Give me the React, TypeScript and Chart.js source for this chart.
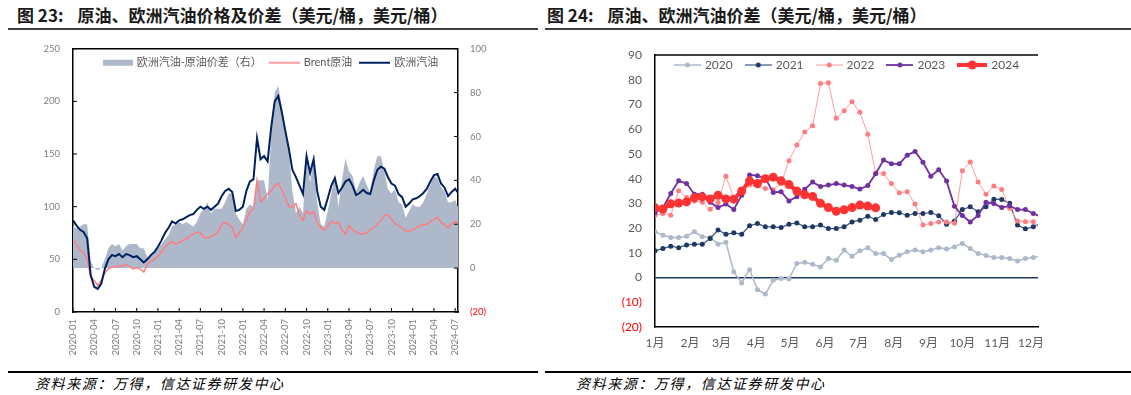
import React, { useEffect, useRef } from 'react';
import { Chart, registerables } from 'chart.js';

Chart.register(...registerables);

const FONT = 'Lato, "Noto Sans CJK SC", sans-serif';
const CJK = '"Noto Sans CJK SC", sans-serif';

// ---------------- Figure 23: crude, European gasoline and crack spread ----------------
// one value every half month, starting 2020-01
const fig23XTickLabels = [
  '2020-01', '2020-04', '2020-07', '2020-10', '2021-01', '2021-04', '2021-07', '2021-10',
  '2022-01', '2022-04', '2022-07', '2022-10', '2023-01', '2023-04', '2023-07', '2023-10',
  '2024-01', '2024-04', '2024-07',
];
const fig23MonthsPerPoint = 0.5;

const europeGasoline = [
  87, 82, 78, 76, 70, 35, 24, 22, 27, 41,
  50, 54, 53, 55, 52, 55, 54, 52, 53, 50,
  47, 50, 54, 57, 62, 68, 75, 80, 86, 84,
  87, 88, 90, 92, 93, 97, 100, 98, 100, 97,
  100, 103, 110, 115, 117, 114, 96, 97, 100, 115,
  124, 126, 165, 145, 148, 143, 175, 200, 205, 190,
  172, 155, 135, 128, 120, 112, 148, 132, 145, 115,
  100, 97, 108, 120, 127, 113, 118, 124, 126, 120,
  111, 113, 116, 113, 112, 125, 135, 138, 136, 128,
  122, 120, 112, 109, 100, 103, 107, 108, 110, 113,
  117, 124, 130, 131, 122, 118, 110, 114, 117, 112,
];

const brentCrude = [
  68, 64, 59, 56, 50, 33, 30, 25, 30, 37,
  41, 43, 43, 44, 44, 45, 43, 41, 42, 41,
  38, 45, 48, 50, 53, 57, 62, 65, 67, 64,
  66, 68, 69, 72, 74, 76, 75, 71, 70, 72,
  73, 76, 83, 85, 83, 80, 71, 75, 80, 88,
  95, 98, 125, 105, 108, 112, 115, 120, 122, 116,
  108, 100, 100, 103, 92, 87, 96, 93, 95, 85,
  80, 78, 82, 86, 84, 85, 78, 74, 82, 78,
  76, 74, 74, 75, 78, 80, 84, 87, 92, 92,
  88, 84, 82, 80, 77, 77, 78, 80, 82, 83,
  83, 86, 88, 90, 85, 83, 80, 84, 86, 85,
];

const gasolineCrackSpread = [
  19, 18, 19, 20, 20, 3, 0, -1, 0, 4,
  9, 11, 10, 11, 8, 10, 11, 11, 11, 9,
  9, 5, 6, 7, 9, 11, 13, 15, 19, 20,
  21, 20, 21, 20, 19, 21, 25, 27, 30, 25,
  27, 27, 27, 30, 34, 34, 25, 22, 20, 27,
  29, 28, 40, 40, 40, 31, 60, 80, 83, 74,
  64, 55, 35, 25, 28, 25, 52, 39, 50, 30,
  20, 19, 26, 34, 43, 28, 40, 50, 44, 42,
  35, 39, 42, 38, 34, 45, 51, 51, 44, 36,
  34, 36, 30, 29, 23, 26, 29, 28, 28, 30,
  34, 38, 42, 41, 37, 35, 30, 30, 31, 27,
];

// ---------------- Figure 24: weekly crack spread by year ----------------
const fig24MonthLabels = ['1月', '2月', '3月', '4月', '5月', '6月', '7月', '8月', '9月', '10月', '11月', '12月'];
const fig24MonthStartDays = [0, 31, 59, 90, 120, 151, 181, 212, 243, 273, 304, 334];
const fig24Years = ['2020', '2021', '2022', '2023', '2024'];

const crack2020 = [
  18.5, 17.1, 16.2, 16.2, 16.7, 18.5, 16.5, 16.2, 13.5, 14.3,
  2.3, -2.2, 3.2, -4.9, -6.7, -1.1, -0.4, -0.5, 5.7, 6.2,
  5.4, 4.3, 7.7, 7.0, 11.1, 8.6, 10.8, 12.0, 9.7, 9.7,
  7.3, 9.0, 10.4, 11.1, 10.4, 11.1, 12.1, 11.5, 12.4, 13.8,
  11.7, 9.7, 8.9, 8.1, 8.1, 7.7, 6.7, 7.7, 8.1, 8.6,
];
const crack2021 = [
  10.8, 11.7, 12.7, 12.1, 13.2, 13.5, 13.5, 15.8, 19.2, 17.5,
  18.1, 17.5, 20.9, 21.9, 20.5, 20.5, 20.2, 21.6, 22.1, 20.5,
  20.5, 21.2, 19.8, 19.8, 20.5, 22.5, 23.2, 24.8, 23.5, 25.5,
  26.3, 26.2, 25.2, 25.9, 25.9, 26.3, 25.0, 21.6, 22.9, 27.5,
  28.6, 26.6, 28.6, 31.7, 31.6, 30.0, 21.2, 19.7, 20.5, 22.0,
];
const crack2022 = [
  25.2, 25.9, 25.2, 35.1, 32.4, 31.0, 30.4, 27.6, 30.3, 41.0,
  32.0, 35.0, 37.4, 37.0, 36.0, 35.5, 38.0, 47.2, 53.6, 58.9,
  61.4, 78.5, 78.8, 64.4, 67.5, 71.1, 66.8, 58.0, 42.3, 42.1,
  38.0, 34.3, 34.7, 29.7, 21.2, 21.9, 22.5, 22.5, 22.0, 43.2,
  46.7, 38.6, 33.7, 37.0, 35.6, 28.0, 22.9, 22.6, 22.6, 19.0,
];
const crack2023 = [
  26.2, 28.3, 34.0, 39.1, 38.0, 33.7, 33.7, 30.4, 28.3, 29.7,
  27.5, 33.3, 41.5, 41.2, 40.1, 34.4, 34.7, 31.0, 32.7, 35.7,
  38.6, 36.8, 37.4, 38.0, 37.4, 36.8, 35.8, 37.2, 42.0, 47.5,
  46.0, 46.0, 49.5, 51.0, 46.6, 41.0, 43.6, 39.0, 28.8, 25.1,
  22.5, 25.1, 30.5, 29.9, 28.3, 29.0, 27.5, 27.5, 25.9, 24.5,
];
const crack2024 = [
  28.2, 27.7, 29.8, 30.1, 30.6, 32.3, 32.6, 31.8, 33.3, 31.8,
  31.7, 35.0, 39.1, 38.0, 40.0, 40.6, 39.1, 37.6, 35.0, 33.5,
  32.8, 30.0, 28.3, 26.8, 27.4, 28.3, 29.3, 28.9, 28.2,
];

// ---------------- styles ----------------
const fig24Styles = [
  { line: '#ADB9CA', dot: '#ADB9CA', width: 1.5, r: 2.5, legendLen: 27 },
  { line: '#3B5683', dot: '#203864', width: 1.2, r: 2.5, legendLen: 27 },
  { line: '#FF9C9C', dot: '#FF7C80', width: 1, r: 2.5, legendLen: 27 },
  { line: '#7030A0', dot: '#7030A0', width: 1.8, r: 2.5, legendLen: 27 },
  { line: '#FF3333', dot: '#FF3333', width: 4, r: 4.5, legendLen: 30 },
];

function makeCanvas(w: number, h: number) {
  const c = document.createElement('canvas');
  c.width = w;
  c.height = h;
  return c;
}

function rectMarker(color: string, w: number, h: number, bh: number) {
  const c = makeCanvas(w, h);
  const ctx = c.getContext('2d')!;
  ctx.fillStyle = color;
  ctx.fillRect(0, (h - bh) / 2, w, bh);
  return c;
}

function lineMarker(color: string, lw: number, w: number, h: number, dotColor?: string, r?: number) {
  const c = makeCanvas(w, h);
  const ctx = c.getContext('2d')!;
  ctx.strokeStyle = color;
  ctx.lineWidth = lw;
  ctx.beginPath();
  ctx.moveTo(0, h / 2);
  ctx.lineTo(w, h / 2);
  ctx.stroke();
  if (dotColor && r) {
    ctx.fillStyle = dotColor;
    ctx.beginPath();
    ctx.arc(w / 2, h / 2, r, 0, Math.PI * 2);
    ctx.fill();
  }
  return c;
}

// legend drawn inside the plot area (one row, centred)
function makeInsideLegend(cfg: {
  markers: HTMLCanvasElement[];
  dy: number;
  dx: number;
  font: string;
  color: string;
  textGap: number;
  itemGap: number;
}) {
  return {
    id: 'insideLegend',
    afterDraw(chart: any) {
      const { ctx, chartArea: a } = chart;
      const labels: string[] = chart.data.datasets.map((d: any) => d.label);
      ctx.save();
      ctx.font = cfg.font;
      const widths = labels.map((t, i) => cfg.markers[i].width + cfg.textGap + ctx.measureText(t).width);
      const total = widths.reduce((s, w) => s + w, 0) + cfg.itemGap * (labels.length - 1);
      let x = (a.left + a.right) / 2 - total / 2 + cfg.dx;
      const cy = a.top + cfg.dy;
      labels.forEach((t, i) => {
        const m = cfg.markers[i];
        ctx.drawImage(m, x, cy - m.height / 2);
        ctx.fillStyle = cfg.color;
        ctx.textBaseline = 'middle';
        ctx.textAlign = 'left';
        ctx.fillText(t, x + m.width + cfg.textGap, cy);
        x += widths[i] + cfg.itemGap;
      });
      ctx.restore();
    },
  };
}

const fig23Frame = {
  id: 'fig23Frame',
  afterDraw(chart: any) {
    const { ctx, chartArea: a } = chart;
    const sx = chart.scales.x;
    const sy = chart.scales.y;
    const sy2 = chart.scales.y2;
    ctx.save();
    ctx.strokeStyle = '#000';
    ctx.lineWidth = 1.5;
    ctx.beginPath();
    ctx.moveTo(a.left, a.top);
    ctx.lineTo(a.right, a.top);
    ctx.stroke();
    ctx.lineWidth = 1;
    ctx.beginPath();
    sx.ticks.forEach((t: any) => {
      const p = sx.getPixelForValue(t.value);
      ctx.moveTo(p, a.bottom);
      ctx.lineTo(p, a.bottom - 4);
    });
    sy.ticks.forEach((t: any) => {
      const p = sy.getPixelForValue(t.value);
      ctx.moveTo(a.left, p);
      ctx.lineTo(a.left + 4, p);
    });
    sy2.ticks.forEach((t: any) => {
      const p = sy2.getPixelForValue(t.value);
      ctx.moveTo(a.right, p);
      ctx.lineTo(a.right - 4, p);
    });
    ctx.stroke();
    ctx.restore();
  },
};

const fig24Frame = {
  id: 'fig24Frame',
  afterDraw(chart: any) {
    const { ctx, chartArea: a } = chart;
    ctx.save();
    ctx.strokeStyle = '#000';
    ctx.lineWidth = 1.5;
    ctx.beginPath();
    ctx.moveTo(a.left, a.top);
    ctx.lineTo(a.right, a.top);
    ctx.stroke();
    ctx.restore();
  },
};

const negLabel = (v: any) => (Number(v) < 0 ? `(${Math.abs(Number(v))})` : `${v}`);

export default function App() {
  const leftRef = useRef<HTMLCanvasElement>(null);
  const rightRef = useRef<HTMLCanvasElement>(null);

  useEffect(() => {
    const toXY = (arr: number[], step: number) => arr.map((v, i) => ({ x: i * step, y: v }));

    const leftLegend = makeInsideLegend({
      markers: [
        rectMarker('#ADB9CA', 30, 8, 6),
        lineMarker('#FF7C80', 1.5, 31, 8),
        lineMarker('#002060', 2, 31, 8),
      ],
      dy: 14,
      dx: 5,
      font: `11px ${FONT}`,
      color: '#595959',
      textGap: 4,
      itemGap: 7,
    });

    const left = new Chart(leftRef.current!, {
      type: 'line',
      data: {
        datasets: [
          {
            label: '欧洲汽油-原油价差（右）',
            data: toXY(gasolineCrackSpread, fig23MonthsPerPoint),
            yAxisID: 'y2',
            borderWidth: 0,
            borderColor: 'rgba(0,0,0,0)',
            backgroundColor: '#ADB9CA',
            fill: 'origin',
            pointRadius: 0,
            order: 3,
          },
          {
            label: 'Brent原油',
            data: toXY(brentCrude, fig23MonthsPerPoint),
            yAxisID: 'y',
            borderColor: '#FF7C80',
            borderWidth: 1.5,
            pointRadius: 0,
            fill: false,
            order: 2,
          },
          {
            label: '欧洲汽油',
            data: toXY(europeGasoline, fig23MonthsPerPoint),
            yAxisID: 'y',
            borderColor: '#002060',
            borderWidth: 2,
            pointRadius: 0,
            fill: false,
            order: 1,
          },
        ],
      } as any,
      options: {
        responsive: false,
        animation: false,
        events: [],
        layout: { padding: { top: 7, left: 0, right: 0, bottom: 0 } },
        plugins: {
          tooltip: { enabled: false },
          legend: { display: false },
        },
        scales: {
          x: {
            type: 'linear',
            min: 0,
            max: 54.4,
            afterBuildTicks: (s: any) => {
              s.ticks = fig23XTickLabels.map((_, i) => ({ value: i * 3 }));
            },
            afterFit: (s: any) => {
              s.height = 60;
            },
            grid: { display: false, drawTicks: false },
            border: { display: true, color: '#000', width: 1.5 },
            ticks: {
              autoSkip: false,
              minRotation: 90,
              maxRotation: 90,
              padding: 7,
              color: '#808080',
              font: { family: FONT, size: 9.5 },
              callback: (_v: any, i: number) => fig23XTickLabels[i],
            },
          },
          y: {
            position: 'left',
            min: 0,
            max: 250,
            afterFit: (s: any) => {
              s.width = 73;
            },
            grid: { display: false, drawTicks: false },
            border: { display: true, color: '#000', width: 1.5 },
            ticks: { stepSize: 50, padding: 13, color: '#808080', font: { family: FONT, size: 9.5 } },
          },
          y2: {
            position: 'right',
            min: -20,
            max: 100,
            afterFit: (s: any) => {
              s.width = 97;
            },
            grid: { display: false, drawTicks: false },
            border: { display: true, color: '#000', width: 1.5 },
            ticks: {
              stepSize: 20,
              padding: 12,
              color: (c: any) => (c.tick && c.tick.value < 0 ? '#FF0000' : '#808080'),
              font: { family: FONT, size: 9.5 },
              callback: negLabel,
            },
          },
        },
      } as any,
      plugins: [fig23Frame, leftLegend],
    });

    const fig24Data = [crack2020, crack2021, crack2022, crack2023, crack2024];
    const rightLegend = makeInsideLegend({
      markers: fig24Styles.map((s) => lineMarker(s.line, s.width, s.legendLen, 12, s.dot, s.r)),
      dy: 10,
      dx: 0,
      font: `12px ${FONT}`,
      color: '#595959',
      textGap: 4,
      itemGap: 12,
    });

    const right = new Chart(rightRef.current!, {
      type: 'line',
      data: {
        datasets: fig24Years.map((year, i) => ({
          label: year,
          data: toXY(fig24Data[i], 1),
          borderColor: fig24Styles[i].line,
          borderWidth: fig24Styles[i].width,
          pointRadius: fig24Styles[i].r,
          pointBackgroundColor: fig24Styles[i].dot,
          pointBorderWidth: 0,
          pointBorderColor: fig24Styles[i].dot,
          fill: false,
          tension: 0,
          order: fig24Years.length - i,
        })),
      } as any,
      options: {
        responsive: false,
        animation: false,
        events: [],
        layout: { padding: { top: 25, left: 0, right: 22, bottom: 0 } },
        plugins: {
          tooltip: { enabled: false },
          legend: { display: false },
        },
        scales: {
          x: {
            type: 'linear',
            min: 0,
            max: 48.6,
            afterBuildTicks: (s: any) => {
              s.ticks = fig24MonthStartDays.map((d) => ({ value: d / 7 }));
            },
            afterFit: (s: any) => {
              s.height = 45;
            },
            grid: { display: false, drawTicks: false },
            border: { display: true, color: '#000', width: 1.5 },
            ticks: {
              autoSkip: false,
              maxRotation: 0,
              minRotation: 0,
              padding: 9,
              color: '#595959',
              font: { family: FONT, size: 12 },
              callback: (_v: any, i: number) => fig24MonthLabels[i],
            },
          },
          y: {
            position: 'left',
            min: -20,
            max: 90,
            afterFit: (s: any) => {
              s.width = 95;
            },
            grid: {
              display: true,
              drawTicks: false,
              color: (c: any) => (c.tick && c.tick.value === 0 ? '#1F3864' : 'rgba(0,0,0,0)'),
              lineWidth: 1.5,
            },
            border: { display: true, color: '#000', width: 1.5 },
            ticks: {
              stepSize: 10,
              padding: 13,
              color: (c: any) => (c.tick && c.tick.value < 0 ? '#FF0000' : '#595959'),
              font: { family: FONT, size: 12 },
              callback: negLabel,
            },
          },
        },
      } as any,
      plugins: [fig24Frame, rightLegend],
    });

    return () => {
      left.destroy();
      right.destroy();
    };
  }, []);

  const titleStyle: React.CSSProperties = {
    position: 'absolute',
    top: 5,
    fontFamily: CJK,
    fontSize: 17,
    fontWeight: 700,
    lineHeight: '20px',
    color: '#1a1a1a',
    whiteSpace: 'nowrap',
  };
  const sourceStyle: React.CSSProperties = {
    position: 'absolute',
    top: 373,
    fontFamily: CJK,
    fontSize: 14,
    fontStyle: 'italic',
    letterSpacing: 1.6,
    lineHeight: '20px',
    color: '#000',
    whiteSpace: 'nowrap',
  };
  const hLine = (left: number, width: number, top: number, color: string, h: number): React.CSSProperties => ({
    position: 'absolute',
    left,
    top,
    width,
    height: h,
    background: color,
  });

  return (
    <div style={{ position: 'absolute', left: 0, top: 0, width: 1131, height: 395, background: '#fff', overflow: 'hidden' }}>
      <div style={{ ...titleStyle, left: 17 }}>
        图 23:<span style={{ marginLeft: 14 }}>原油、欧洲汽油价格及价差（美元/桶，美元/桶）</span>
      </div>
      <div style={{ ...titleStyle, left: 547 }}>
        图 24:<span style={{ marginLeft: 14 }}>原油、欧洲汽油价差（美元/桶，美元/桶）</span>
      </div>
      <div style={hLine(8, 530, 28, '#404040', 2)} />
      <div style={hLine(545, 586, 28, '#404040', 2)} />

      <div style={{ position: 'absolute', left: 0, top: 30 }}>
        <canvas ref={leftRef} width={555} height={342} style={{ width: 555, height: 342, display: 'block' }} />
      </div>
      <div style={{ position: 'absolute', left: 560, top: 30 }}>
        <canvas ref={rightRef} width={500} height={342} style={{ width: 500, height: 342, display: 'block' }} />
      </div>

      <div style={hLine(8, 530, 371, '#000', 1.5)} />
      <div style={hLine(545, 586, 371, '#000', 1.5)} />
      <div style={{ ...sourceStyle, left: 35 }}>资料来源：万得，信达证券研发中心</div>
      <div style={{ ...sourceStyle, left: 576 }}>资料来源：万得，信达证券研发中心</div>
    </div>
  );
}
